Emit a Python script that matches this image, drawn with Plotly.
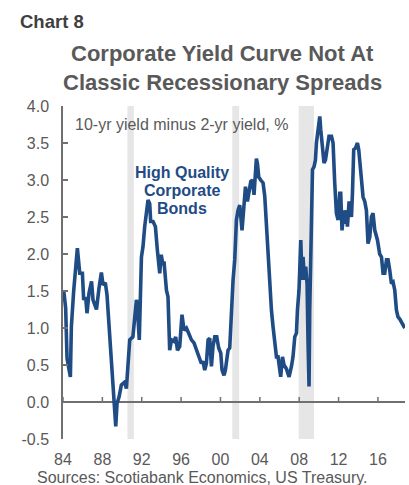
import plotly.graph_objects as go

# ---- data ----
years = [
    1984.07, 1984.27, 1984.41, 1984.75, 1984.85, 1985.08, 1985.46, 1985.70, 1985.97, 1986.10,
    1986.30, 1986.44, 1986.64, 1986.90, 1987.05, 1987.32, 1987.40, 1987.66, 1987.90, 1988.07,
    1988.30, 1988.47, 1988.75, 1989.00, 1989.15, 1989.36, 1989.49, 1989.70, 1989.93, 1990.27,
    1990.44, 1990.60, 1990.78, 1991.10, 1991.30, 1991.46, 1991.55, 1991.75, 1991.97, 1992.13,
    1992.30, 1992.48, 1992.64, 1992.81, 1992.91, 1993.15, 1993.39, 1993.59, 1993.83, 1993.98,
    1994.16, 1994.26, 1994.51, 1994.67, 1994.84, 1995.02, 1995.28, 1995.45, 1995.63, 1995.86,
    1996.09, 1996.30, 1996.54, 1996.77, 1997.05, 1997.31, 1997.56, 1997.79, 1998.06, 1998.23,
    1998.40, 1998.57, 1998.74, 1998.91, 1999.08, 1999.24, 1999.42, 1999.62, 1999.82, 2000.03,
    2000.16, 2000.36, 2000.50, 2000.64, 2000.77, 2000.94, 2001.04, 2001.17, 2001.28, 2001.45,
    2001.62, 2001.78, 2001.96, 2002.19, 2002.39, 2002.54, 2002.74, 2002.90, 2003.08, 2003.25,
    2003.41, 2003.55, 2003.65, 2003.76, 2003.89, 2004.09, 2004.33, 2004.50, 2004.67, 2004.83,
    2005.01, 2005.18, 2005.34, 2005.52, 2005.69, 2005.85, 2006.02, 2006.12, 2006.30, 2006.46,
    2006.70, 2006.97, 2007.21, 2007.37, 2007.55, 2007.72, 2007.82, 2007.98, 2008.16, 2008.29,
    2008.39, 2008.53, 2008.66, 2008.80, 2008.90, 2009.00, 2009.07, 2009.17, 2009.30, 2009.35,
    2009.51, 2009.65, 2009.75, 2009.92, 2010.09, 2010.19, 2010.32, 2010.52, 2010.67, 2010.83,
    2011.03, 2011.28, 2011.44, 2011.61, 2011.78, 2011.95, 2012.12, 2012.22, 2012.35, 2012.53,
    2012.63, 2012.80, 2012.90, 2013.07, 2013.21, 2013.31, 2013.41, 2013.54, 2013.72, 2013.92,
    2014.05, 2014.26, 2014.49, 2014.66, 2014.83, 2014.99, 2015.17, 2015.34, 2015.50, 2015.68,
    2015.95, 2016.18, 2016.36, 2016.52, 2016.69, 2016.87, 2017.03, 2017.20, 2017.37, 2017.54,
    2017.71, 2017.88, 2018.04, 2018.22, 2018.39, 2018.55, 2018.73,
]
spread = [
    1.51, 1.27, 0.59, 0.34, 1.02, 1.49, 2.08, 1.74, 1.74, 1.38,
    1.42, 1.20, 1.47, 1.63, 1.38, 1.29, 1.25, 1.54, 1.75, 1.58,
    1.61, 1.45, 0.88, 0.39, 0.07, -0.33, -0.02, 0.07, 0.23, 0.27,
    0.18, 0.43, 0.84, 0.88, 1.20, 1.38, 1.30, 0.84, 1.96, 2.10,
    2.37, 2.59, 2.73, 2.68, 2.44, 2.44, 2.37, 2.05, 1.74, 1.99,
    1.85, 1.90, 1.51, 1.42, 0.70, 0.84, 0.82, 0.88, 0.70, 0.75,
    1.18, 0.97, 1.00, 0.93, 0.84, 0.80, 0.70, 0.61, 0.52, 0.55,
    0.43, 0.52, 0.84, 0.86, 0.48, 0.75, 0.88, 0.88, 0.73, 0.66,
    0.43, 0.36, 0.43, 0.57, 0.70, 0.73, 1.02, 1.15, 1.65, 1.92,
    2.46, 2.59, 2.66, 2.32, 2.64, 2.91, 2.71, 2.82, 2.98, 3.00,
    2.80, 3.09, 3.29, 3.22, 3.04, 3.00, 2.96, 2.78, 2.37, 1.96,
    1.60, 1.24, 1.02, 0.75, 0.61, 0.61, 0.48, 0.34, 0.61, 0.50,
    0.45, 0.34, 0.48, 0.61, 0.88, 0.93, 1.24, 1.51, 2.19, 1.65,
    1.96, 1.65, 1.83, 1.60, 0.79, 0.21, 1.24, 2.00, 2.37, 3.14,
    3.18, 3.27, 3.50, 3.68, 3.86, 3.68, 3.50, 3.23, 3.27, 3.45,
    3.59, 3.59, 3.50, 2.96, 2.55, 2.46, 2.82, 2.82, 2.32, 2.59,
    2.41, 2.59, 2.37, 2.71, 2.55, 2.50, 2.82, 3.41, 3.43, 3.50,
    3.41, 3.14, 2.77, 2.71, 2.59, 2.14, 2.23, 2.50, 2.55, 2.32,
    2.19, 2.00, 1.96, 1.74, 1.74, 1.92, 1.92, 1.78, 1.60, 1.62,
    1.51, 1.24, 1.15, 1.12, 1.08, 1.02, 1.00,
]
recession_start = [1990.55, 2001.2, 2007.95]
recession_end = [1991.2, 2001.9, 2009.5]
x_tickvals = [1984, 1988, 1992, 1996, 2000, 2004, 2008, 2012, 2016]
x_ticktext = ["84", "88", "92", "96", "00", "04", "08", "12", "16"]
y_tickvals = [-0.5, 0.0, 0.5, 1.0, 1.5, 2.0, 2.5, 3.0, 3.5, 4.0]
y_ticktext = ["-0.5", "0.0", "0.5", "1.0", "1.5", "2.0", "2.5", "3.0", "3.5", "4.0"]

LINE = "#1f4c85"
GREY = "#595959"
AXIS = "#707070"
FONT = "Liberation Sans, Arial, sans-serif"
NARROW = "Liberation Sans Narrow, Arial Narrow, Liberation Sans, sans-serif"

W, H = 409, 485
ML, MR, MT, MB = 63, 4, 106, 46
PW, PH = W - ML - MR, H - MT - MB

ymin, ymax = -0.5, 4.0
xmin, xmax = 1984.0, 2018.75
YPX = (ymax - ymin) / PH       # one pixel in y data units
XPX = (xmax - xmin) / PW       # one pixel in x data units


def px(x):
    return (x - ML) / PW


def py(y):
    return (H - MB - y) / PH


fig = go.Figure()

for s, e in zip(recession_start, recession_end):
    fig.add_shape(type="rect", xref="x", yref="paper", x0=s, x1=e, y0=0, y1=1,
                  fillcolor="#e6e6e6", line_width=0, layer="below")

# zero line (acting as the x axis) drawn as a thin filled band, with small upward ticks
fig.add_shape(type="rect", xref="paper", yref="y", x0=0, x1=1,
              y0=-0.9 * YPX, y1=0.9 * YPX,
              fillcolor=AXIS, line_width=0, layer="below")
for tv in x_tickvals:
    fig.add_shape(type="rect", xref="x", yref="y",
                  x0=tv - 0.75 * XPX, x1=tv + 0.75 * XPX, y0=0, y1=5 * YPX,
                  fillcolor=AXIS, line_width=0, layer="below")

fig.add_trace(go.Scatter(
    x=years, y=spread, mode="lines",
    line=dict(color=LINE, width=3.6),
    showlegend=False, hoverinfo="skip",
))

fig.update_layout(
    width=W, height=H,
    margin=dict(l=ML, r=MR, t=MT, b=MB, autoexpand=False),
    paper_bgcolor="white", plot_bgcolor="white",
    font=dict(family=FONT, size=16, color=GREY),
    xaxis=dict(
        range=[xmin, xmax], tickvals=x_tickvals, ticktext=x_ticktext,
        showgrid=False, zeroline=False, showline=False, ticks="",
        tickfont=dict(size=16, color=GREY), ticklabelstandoff=9, automargin=False,
    ),
    yaxis=dict(
        range=[ymin, ymax], tickvals=y_tickvals, ticktext=y_ticktext,
        showgrid=False, zeroline=False,
        showline=True, linecolor=AXIS, linewidth=1.5,
        ticks="inside", ticklen=5, tickcolor=AXIS, tickwidth=1.5,
        tickfont=dict(size=16, color=GREY), ticklabelstandoff=9, automargin=False,
    ),
)

ann = [
    dict(text="<b>Chart 8</b>", x=px(18), y=py(21), xanchor="left", yanchor="middle",
         font=dict(family=NARROW, size=18.5, color="#3f3f3f")),
    dict(text="<b>Corporate Yield Curve Not At</b>", x=px(222.5), y=py(54),
         xanchor="center", yanchor="middle", font=dict(size=22, color=GREY)),
    dict(text="<b>Classic Recessionary Spreads</b>", x=px(222.5), y=py(82),
         xanchor="center", yanchor="middle", font=dict(size=22, color=GREY)),
    dict(text="10-yr yield minus 2-yr yield, %", x=px(73), y=py(124),
         xanchor="left", yanchor="middle", font=dict(size=16, color=GREY)),
    dict(text="<b>High Quality</b>", x=px(182), y=py(172), xanchor="center", yanchor="middle",
         font=dict(size=16, color=LINE)),
    dict(text="<b>Corporate</b>", x=px(182), y=py(190), xanchor="center", yanchor="middle",
         font=dict(size=16, color=LINE)),
    dict(text="<b>Bonds</b>", x=px(182), y=py(208), xanchor="center", yanchor="middle",
         font=dict(size=16, color=LINE)),
    dict(text="Sources: Scotiabank Economics, US Treasury.", x=px(35), y=py(477),
         xanchor="left", yanchor="middle", font=dict(size=16, color=GREY)),
]
for a in ann:
    fig.add_annotation(xref="paper", yref="paper", showarrow=False, **a)

fig.write_html("out.html", config={"displayModeBar": False},
               post_script="document.body.style.margin='0';")
